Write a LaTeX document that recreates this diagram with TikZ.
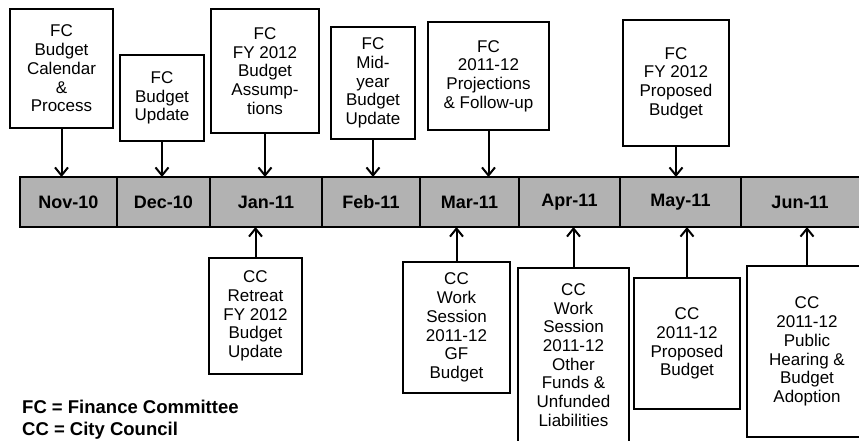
\documentclass[tikz,border=0pt]{standalone}
\usepackage{fontspec}
\setmainfont{Liberation Sans}
\usetikzlibrary{positioning,arrows.meta}

\begin{document}
\begin{tikzpicture}[
  x=1pt, y=-1pt,
  month/.style={draw,line width=1.8pt,fill=black!30,outer sep=0pt,inner sep=0pt,
    minimum height=50pt,font=\fontsize{18}{20}\selectfont\bfseries},
  fcbox/.style={draw,line width=2pt,fill=white,align=center,inner sep=0pt,
    font=\fontsize{17}{18.7}\selectfont},
  ccbox/.style={fcbox},
  legend/.style={anchor=base west,inner sep=0pt,font=\fontsize{18.5}{20}\selectfont\bfseries},
  arr/.style={line width=2pt,-{Straight Barb[length=8pt,width=13pt,line width=2pt]}}
]
\useasboundingbox (0,0) rectangle (859,440);
\clip (0,0) rectangle (859,440);

% timeline bar
\node[month,minimum width=97pt,anchor=west] (nov) at (20,202) {Nov-10};
\node[month,minimum width=93pt,right=0pt of nov] (dec) {Dec-10};
\node[month,minimum width=112pt,right=0pt of dec] (jan) {Jan-11};
\node[month,minimum width=98pt,right=0pt of jan] (feb) {Feb-11};
\node[month,minimum width=99pt,right=0pt of feb] (mar) {Mar-11};
\node[month,minimum width=101pt,right=0pt of mar] (apr) {Apr-11};
\node[month,minimum width=121pt,right=0pt of apr] (may) {May-11};
\node[month,minimum width=140pt,right=0pt of may] (jun) {\hspace*{-22pt}Jun-11};

% finance committee
\node[fcbox,minimum width=103pt,minimum height=119pt] (fcnov) at (61.5,68.5)
  {FC\\Budget\\Calendar\\\&\\Process};
\node[fcbox,minimum width=84pt,minimum height=86pt] (fcdec) at (162,98)
  {FC\\Budget\\Update};
\node[fcbox,minimum width=108pt,minimum height=124pt] (fcjan) at (265,71)
  {FC\\FY 2012\\Budget\\Assump-\\tions};
\node[fcbox,minimum width=84pt,minimum height=112pt] (fcfeb) at (373,83)
  {FC\\Mid-\\year\\Budget\\Update};
\node[fcbox,minimum width=121pt,minimum height=108pt] (fcmar) at (488.5,76)
  {FC\\2011-12\\Projections\\\& Follow-up};
\node[fcbox,minimum width=106pt,minimum height=126pt] (fcmay) at (676,83)
  {FC\\FY 2012\\Proposed\\Budget};

% city council
\node[ccbox,minimum width=93pt,minimum height=116pt] (ccjan) at (255.5,316)
  {CC\\Retreat\\FY 2012\\Budget\\Update};
\node[ccbox,minimum width=107pt,minimum height=131pt] (ccmar) at (456.5,327.5)
  {CC\\Work\\Session\\2011-12\\GF\\Budget};
\node[ccbox,minimum width=111pt,minimum height=174pt] (ccapr) at (573.5,355)
  {CC\\Work\\Session\\2011-12\\Other\\Funds \&\\Unfunded\\Liabilities};
\node[ccbox,minimum width=106pt,minimum height=131pt] (ccmay) at (687,343.5)
  {CC\\2011-12\\Proposed\\Budget};
\node[ccbox,minimum width=120pt,minimum height=171pt] (ccjun) at (807,351.5)
  {CC\\2011-12\\Public\\Hearing \&\\Budget\\Adoption};

\draw[arr] (fcnov.south) -- (fcnov.south |- nov.north);
\draw[arr] (fcdec.south) -- (fcdec.south |- dec.north);
\draw[arr] (fcjan.south) -- (fcjan.south |- jan.north);
\draw[arr] (fcfeb.south) -- (fcfeb.south |- feb.north);
\draw[arr] (fcmar.south) -- (fcmar.south |- mar.north);
\draw[arr] (fcmay.south) -- (fcmay.south |- may.north);

\draw[arr] (ccjan.north) -- (ccjan.north |- jan.south);
\draw[arr] (ccmar.north) -- (ccmar.north |- mar.south);
\draw[arr] (ccapr.north) -- (ccapr.north |- apr.south);
\draw[arr] (ccmay.north) -- (ccmay.north |- may.south);
\draw[arr] (ccjun.north) -- (ccjun.north |- jun.south);

\node[legend] (fckey) at (22,413) {FC = Finance Committee};
\node[legend] (cckey) at (22,435) {CC = City Council};

\end{tikzpicture}
\end{document}
